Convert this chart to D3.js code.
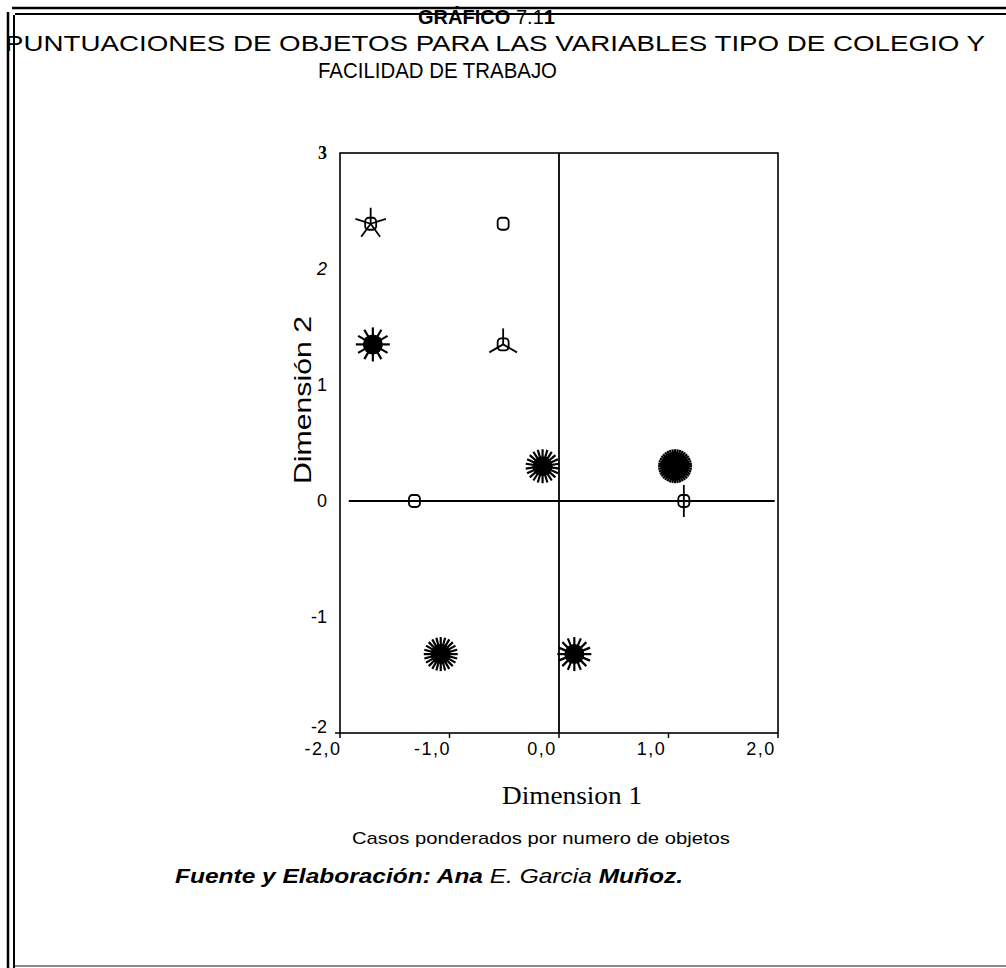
<!DOCTYPE html>
<html><head><meta charset="utf-8">
<script src="https://cdn.jsdelivr.net/npm/d3@7"></script>
<style>body{margin:0;background:#fff}svg{display:block}</style>
</head><body>
<script>
// Data
const dim1 = [-1.72, -0.51, -1.70, -0.51, -1.32, -0.15, 1.06, 1.14, -1.08, 0.14];
const dim2 = [2.39, 2.39, 1.35, 1.35, 0.00, 0.30, 0.30, 0.00, -1.32, -1.32];
const counts = [5, 1, 12, 3, 1, 22, 40, 2, 24, 16];
const xTicks = [-2, -1, 0, 1, 2];
const xTickLabels = ["-2,0", "-1,0", "0,0", "1,0", "2,0"];
const yTicks = [3, 2, 1, 0, -1, -2];
const yTickLabels = ["3", "2", "1", "0", "-1", "-2"];

const W = 1006, H = 968;
const SANS = "Liberation Sans, Arial, sans-serif";
const SERIF = "Liberation Serif, Times New Roman, serif";
const svg = d3.select("body").append("svg").attr("width", W).attr("height", H)
  .attr("font-family", SANS);

// frame
const fr = svg.append("g").attr("stroke", "#000").attr("fill", "none");
fr.append("line").attr("x1", 12).attr("x2", W).attr("y1", 8).attr("y2", 8).attr("stroke-width", 2.5);
fr.append("line").attr("x1", 15).attr("x2", W).attr("y1", 14).attr("y2", 14).attr("stroke-width", 2);
fr.append("line").attr("x1", 8).attr("x2", 8).attr("y1", 12).attr("y2", H).attr("stroke-width", 2.5);
fr.append("line").attr("x1", 14).attr("x2", 14).attr("y1", 15).attr("y2", H).attr("stroke-width", 2);
fr.append("line").attr("x1", 15).attr("x2", W).attr("y1", 966).attr("y2", 966).attr("stroke", "#888").attr("stroke-width", 2);

// titles
const t1 = svg.append("text").attr("x", 418).attr("y", 24).attr("font-size", 20)
  .attr("textLength", 137).attr("lengthAdjust", "spacingAndGlyphs");
t1.append("tspan").attr("font-weight", "bold").text("GRÁFICO ");
t1.append("tspan").text("7.1");
t1.append("tspan").attr("font-weight", "bold").text("1");
svg.append("text").attr("x", 5).attr("y", 51).attr("font-size", 22)
  .attr("textLength", 980).attr("lengthAdjust", "spacingAndGlyphs")
  .text("PUNTUACIONES DE OBJETOS PARA LAS VARIABLES TIPO DE COLEGIO Y");
svg.append("text").attr("x", 318).attr("y", 78).attr("font-size", 22)
  .attr("textLength", 239).attr("lengthAdjust", "spacingAndGlyphs")
  .text("FACILIDAD DE TRABAJO");

// scales
const x = d3.scaleLinear().domain([-2, 2]).range([340, 778]);
const y = d3.scaleLinear().domain([-2, 3]).range([733, 153]);

const g = svg.append("g");
// plot box
g.append("rect").attr("x", x(-2)).attr("y", y(3)).attr("width", x(2) - x(-2)).attr("height", y(-2) - y(3))
  .attr("fill", "none").attr("stroke", "#000").attr("stroke-width", 1.6);
// zero lines
g.append("line").attr("x1", x(0)).attr("x2", x(0)).attr("y1", y(3)).attr("y2", y(-2)).attr("stroke", "#000").attr("stroke-width", 1.8);
g.append("line").attr("x1", x(-1.92)).attr("x2", x(1.97)).attr("y1", y(0)).attr("y2", y(0)).attr("stroke", "#000").attr("stroke-width", 1.8);

// x ticks
g.selectAll("line.xt").data(xTicks).join("line").attr("class", "xt")
  .attr("x1", d => x(d)).attr("x2", d => x(d))
  .attr("y1", y(-2)).attr("y2", y(-2) + 5).attr("stroke", "#000").attr("stroke-width", 1.5);
g.selectAll("text.xl").data(xTicks).join("text").attr("class", "xl")
  .attr("x", d => x(d) - 17).attr("y", 755).attr("text-anchor", "middle")
  .attr("font-size", 18).attr("letter-spacing", 1.5).text((d, i) => xTickLabels[i]);
// y ticks
g.append("line").attr("x1", x(-2) - 5).attr("x2", x(-2)).attr("y1", y(-2)).attr("y2", y(-2)).attr("stroke", "#000").attr("stroke-width", 1.5);
svg.selectAll("text.yl").data(yTicks).join("text").attr("class", "yl")
  .attr("x", 327).attr("y", d => d === -2 ? y(d) : y(d) + 6)
  .attr("text-anchor", "end").attr("font-size", 18)
  .attr("font-family", d => d === 3 ? SERIF : SANS)
  .attr("font-weight", d => d === 3 ? "bold" : "normal")
  .attr("font-style", d => d === 2 ? "italic" : "normal")
  .text((d, i) => yTickLabels[i]);

// axis titles
svg.append("text").attr("transform", "translate(311,400) rotate(-90)").attr("text-anchor", "middle")
  .attr("font-size", 24).attr("textLength", 168).attr("lengthAdjust", "spacingAndGlyphs").text("Dimensión 2");
svg.append("text").attr("x", 502).attr("y", 804)
  .attr("font-family", SERIF).attr("font-size", 25)
  .attr("textLength", 140).attr("lengthAdjust", "spacingAndGlyphs").text("Dimension 1");
svg.append("text").attr("x", 352).attr("y", 844)
  .attr("font-size", 17).attr("textLength", 378).attr("lengthAdjust", "spacingAndGlyphs")
  .text("Casos ponderados por numero de objetos");
const src = svg.append("text").attr("x", 175).attr("y", 883).attr("font-size", 21).attr("font-style", "italic")
  .attr("textLength", 508).attr("lengthAdjust", "spacingAndGlyphs");
src.append("tspan").attr("font-weight", "bold").text("Fuente y Elaboración: Ana");
src.append("tspan").text(" E. Garcia ");
src.append("tspan").attr("font-weight", "bold").text("Muñoz.");

// sunflower points
const pts = dim1.map((d, i) => ({ x: dim1[i], y: dim2[i], n: counts[i] }));
const pg = g.selectAll("g.pt").data(pts).join("g").attr("class", "pt")
  .attr("transform", d => `translate(${x(d.x)},${y(d.y)})`);
pg.each(function (d) {
  const s = d3.select(this);
  if (d.n > 1) {
    const R = d.n >= 10 ? 17 : 16;
    s.selectAll("line").data(d3.range(d.n)).join("line")
      .attr("x1", 0).attr("y1", 0)
      .attr("x2", k => R * Math.sin(2 * Math.PI * k / d.n))
      .attr("y2", k => -R * Math.cos(2 * Math.PI * k / d.n))
      .attr("stroke", "#000").attr("stroke-width", d.n >= 10 ? 2.2 : 1.8);
  }
  if (d.n >= 10) {
    s.append("circle").attr("r", d.n >= 30 ? 14 : 10).attr("fill", "#000");
  } else {
    s.append("rect").attr("x", -5.5).attr("y", -6).attr("width", 11).attr("height", 12).attr("rx", 3.5)
      .attr("fill", "none").attr("stroke", "#000").attr("stroke-width", 1.8);
  }
});
</script>
</body></html>
